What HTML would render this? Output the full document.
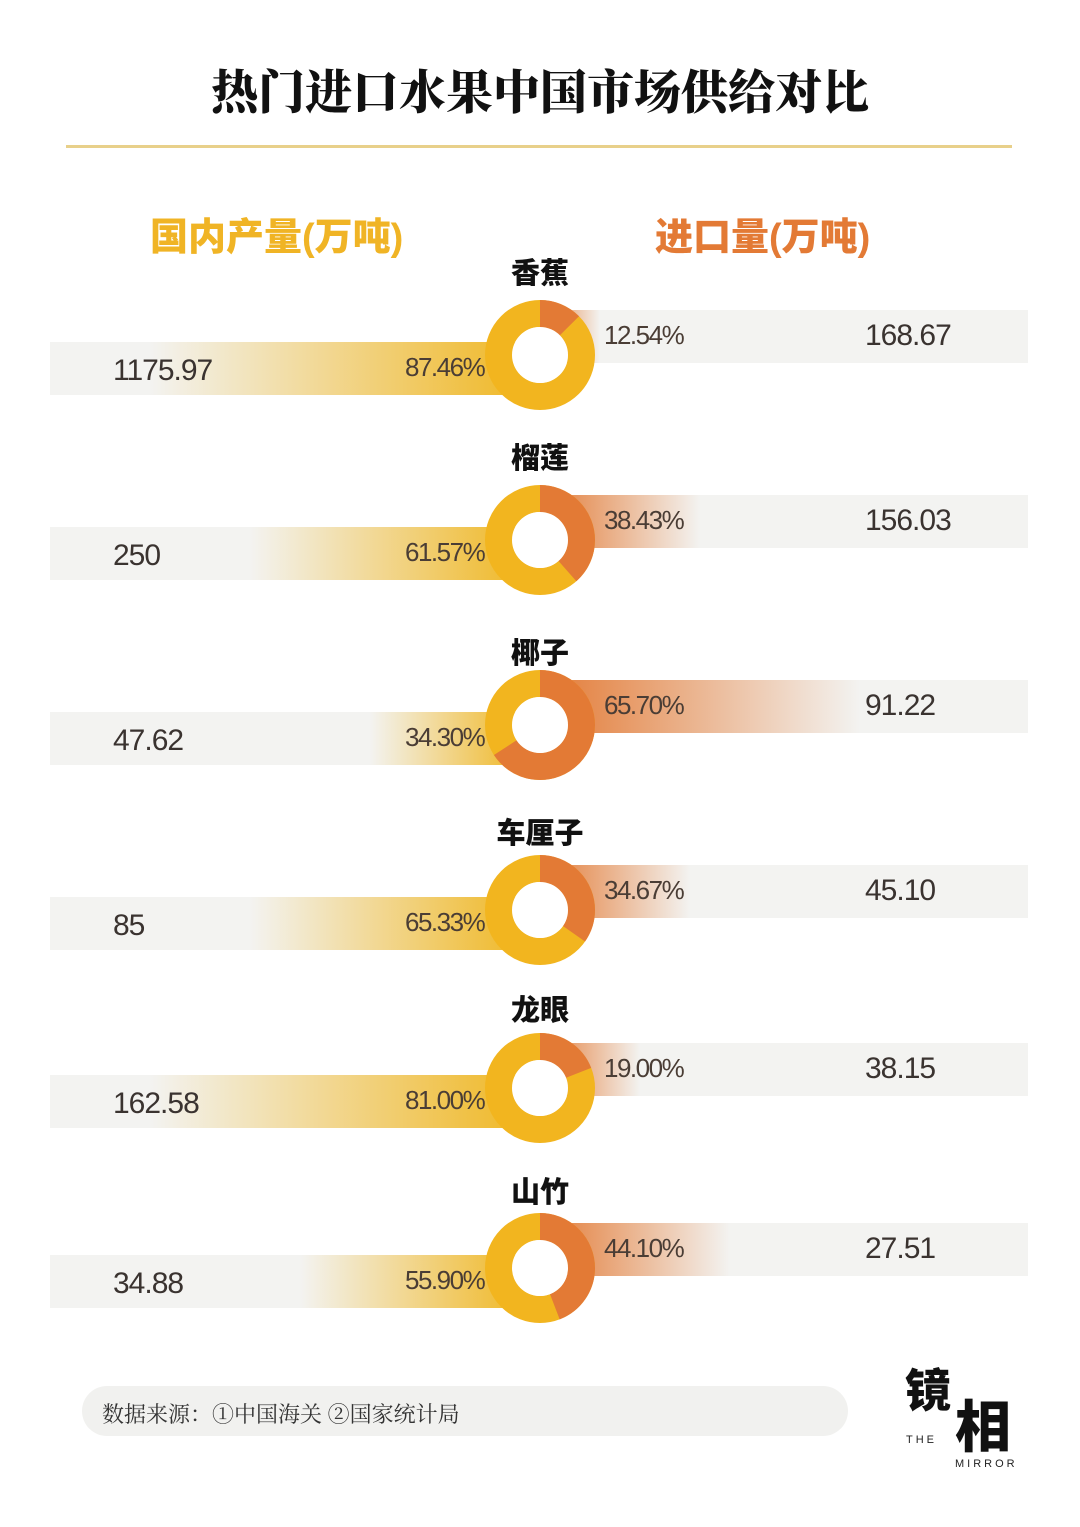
<!DOCTYPE html>
<html><head><meta charset="utf-8"><style>
body{margin:0;width:1080px;height:1527px;background:#fff;position:relative;overflow:hidden;font-family:"Liberation Sans","Noto Sans CJK SC",sans-serif}
.a{position:absolute}
.t{left:0;width:1080px;text-align:center;font-weight:900;font-size:47px;top:56px;color:#111;font-family:"Noto Serif CJK SC","Noto Sans CJK SC",serif}
.num{font-size:30px;color:#3a3330;letter-spacing:-1px}
.pct{font-size:26px;color:#4a3d35;letter-spacing:-1.5px}
.name{width:200px;left:440px;text-align:center;font-size:29px;font-weight:900;color:#111}
</style></head><body>
<div class="a t">热门进口水果中国市场供给对比</div>
<div class="a" style="left:66px;top:145px;width:946px;height:3px;background:#e8d08a"></div>
<div class="a" style="left:150px;top:206px;font-size:38px;font-weight:900;color:#f0b425">国内产量(万吨)</div>
<div class="a" style="left:655px;top:206px;font-size:38px;font-weight:900;color:#e37a35">进口量(万吨)</div>
<svg class="a" style="left:0;top:0" width="1080" height="1527">
<defs>
<linearGradient id="gl" x1="0" x2="1"><stop offset="0" stop-color="#f3f3f1"/><stop offset="1" stop-color="#f0b92a"/></linearGradient>
<linearGradient id="gr" x1="0" x2="1"><stop offset="0" stop-color="#e37a35"/><stop offset="1" stop-color="#f3f3f1"/></linearGradient>
</defs>
<g id="rows"></g>
</svg>
<div id="txt"></div>
<div class="a" style="left:82px;top:1386px;width:766px;height:50px;border-radius:25px;background:#f1f1ef"></div>
<div class="a" style="left:102px;top:1398px;font-size:22px;color:#333;font-family:'Noto Serif CJK SC',serif">数据来源：①中国海关 ②国家统计局</div>
<div class="a" style="left:905px;top:1368px;font-size:46px;font-weight:900;color:#111;line-height:1">镜</div>
<div class="a" style="left:955px;top:1400px;font-size:56px;font-weight:900;color:#111;line-height:1">相</div>
<div class="a" style="left:906px;top:1434px;font-size:11px;letter-spacing:3px;color:#222">THE</div>
<div class="a" style="left:955px;top:1458px;font-size:11px;letter-spacing:3px;color:#222">MIRROR</div>
<script>
var R=[["香蕉",268,355,1,"1175.97","87.46%","12.54%","168.67",12.54,150,600],
["榴莲",453,540,1,"250","61.57%","38.43%","156.03",38.43,250,700],
["椰子",648,725,1,"47.62","34.30%","65.70%","91.22",65.70,370,860],
["车厘子",828,910,1,"85","65.33%","34.67%","45.10",34.67,250,690],
["龙眼",1005,1088,1,"162.58","81.00%","19.00%","38.15",19.00,150,640],
["山竹",1187,1268,1,"34.88","55.90%","44.10%","27.51",44.10,300,730]];
var s="",h="";
R.forEach(function(r){var c=r[2];
s+='<rect x="50" y="'+(c-13)+'" width="470" height="53" fill="#f3f3f1"/>';
s+='<rect x="'+r[9]+'" y="'+(c-13)+'" width="'+(520-r[9])+'" height="53" fill="url(#gl)"/>';
s+='<rect x="540" y="'+(c-45)+'" width="488" height="53" fill="#f3f3f1"/>';
s+='<rect x="540" y="'+(c-45)+'" width="'+(r[10]-540)+'" height="53" fill="url(#gr)"/>';
var rr=41.5,C=2*Math.PI*rr,p=r[8]/100;
s+='<circle cx="540" cy="'+c+'" r="'+rr+'" fill="none" stroke="#f2b51f" stroke-width="27"/>';
s+='<circle cx="540" cy="'+c+'" r="'+rr+'" fill="none" stroke="#e37a35" stroke-width="27" stroke-dasharray="'+(C*p)+' '+C+'" transform="rotate(-90 540 '+c+')"/>';
s+='<circle cx="540" cy="'+c+'" r="28" fill="#fff"/>';
h+='<div class="a name" style="top:'+(r[1]-18)+'px">'+r[0]+'</div>';
h+='<div class="a num" style="left:113px;top:'+(c-1)+'px">'+r[4]+'</div>';
h+='<div class="a pct" style="left:405px;top:'+(c-3)+'px">'+r[5]+'</div>';
h+='<div class="a pct" style="left:604px;top:'+(c-35)+'px">'+r[6]+'</div>';
h+='<div class="a num" style="left:865px;top:'+(c-36)+'px">'+r[7]+'</div>';});
document.getElementById("rows").innerHTML=s;document.getElementById("txt").innerHTML=h;
</script>
</body></html>
